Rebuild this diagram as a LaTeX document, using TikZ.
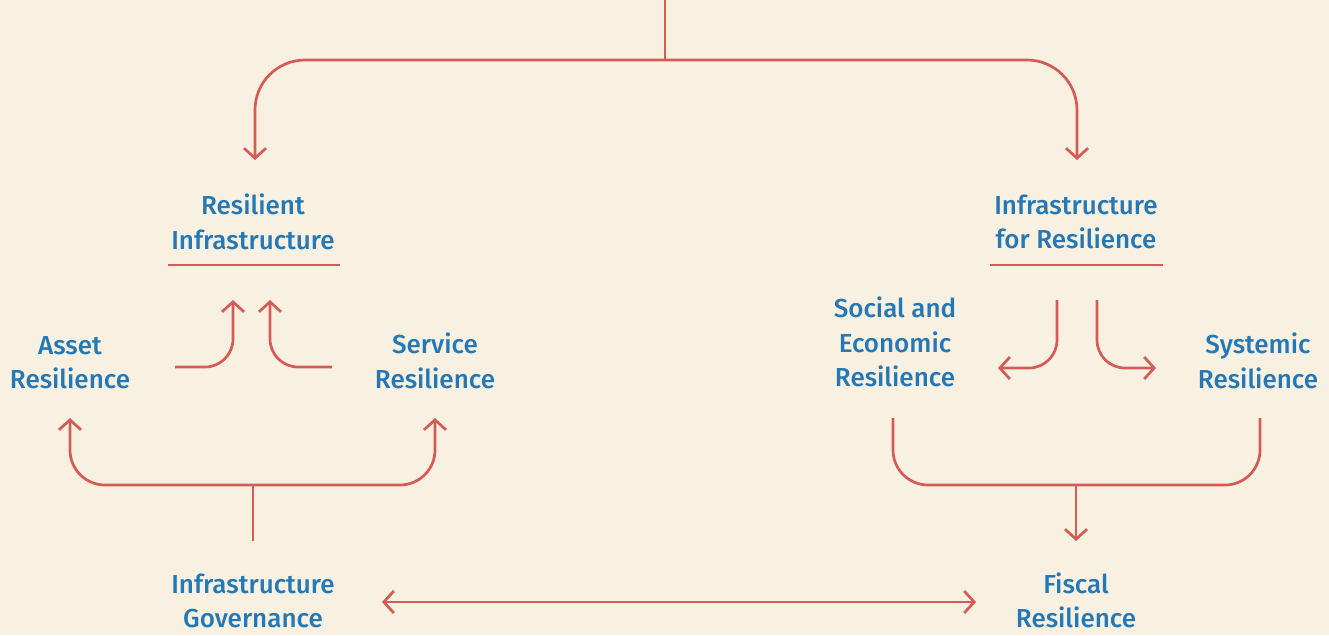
\documentclass[tikz,border=0pt]{standalone}
\usepackage{fontspec}
\setmainfont{Fira Sans}[UprightFont=* Medium]
\usetikzlibrary{arrows.meta}
\definecolor{bg}{HTML}{F8F0E1}
\definecolor{lred}{HTML}{D65A55}
\definecolor{lblue}{HTML}{2478B5}
\tikzset{
  lbl/.style={text=lblue, align=center, font=\fontsize{26}{34.5}\selectfont, inner sep=0pt},
  conn/.style={draw=lred, line width=2.7pt},
  tip/.style={-{Straight Barb[length=10pt,width=22pt,line width=2.7pt]}},
  tips/.style={{Straight Barb[length=10pt,width=22pt,line width=2.7pt]}-{Straight Barb[length=10pt,width=22pt,line width=2.7pt]}}
}
\begin{document}
\begin{tikzpicture}[x=1pt,y=-1pt]
\fill[bg] (0,0) rectangle (1329,635);
\useasboundingbox (0,0) rectangle (1329,635);

% labels
\node[lbl] (ri) at (253,222) {Resilient\\Infrastructure};
\node[lbl] (ifr) at (1076,222) {Infrastructure\\for Resilience};
\node[lbl] (asset) at (70,362.5) {Asset\\Resilience};
\node[lbl] (service) at (435,361) {Service\\Resilience};
\node[lbl] (social) at (895,342) {Social and\\Economic\\Resilience};
\node[lbl] (systemic) at (1258,361) {Systemic\\Resilience};
\node[lbl] (gov) at (253,601) {Infrastructure\\Governance};
\node[lbl] (fiscal) at (1076,600.5) {Fiscal\\Resilience};

% coordinates
\coordinate (top) at (665,0);
\coordinate (topj) at (665,60);
\coordinate (riin) at (255,160);
\coordinate (ifrin) at (1077,160);
\coordinate (ulLa) at (168,265);
\coordinate (ulLb) at (340,265);
\coordinate (ulRa) at (990,265);
\coordinate (ulRb) at (1163,265);
\coordinate (aout) at (175,367);
\coordinate (ain) at (233,300);
\coordinate (sout) at (332,367);
\coordinate (sin) at (270,300);
\coordinate (soc1) at (1057,300);
\coordinate (socin) at (998,368);
\coordinate (sys1) at (1097,300);
\coordinate (sysin) at (1156,368);
\coordinate (assetin) at (70,418);
\coordinate (servicein) at (435,418);
\coordinate (govout) at (253,541);
\coordinate (govj) at (253,485);
\coordinate (socout) at (893,418);
\coordinate (sysout) at (1260,418);
\coordinate (fisj) at (1076,485);
\coordinate (fisin) at (1076,541);
\coordinate (dblA) at (382,602);
\coordinate (dblB) at (976,602);

% top split
\draw[conn] (top) -- (topj);
\draw[conn,tip,rounded corners=50pt] (topj) -| (riin);
\draw[conn,tip,rounded corners=50pt] (topj) -| (ifrin);

% underlines
\draw[conn] (ulLa) -- (ulLb);
\draw[conn] (ulRa) -- (ulRb);

% left small arrows
\draw[conn,tip,rounded corners=28pt] (aout) -| (ain);
\draw[conn,tip,rounded corners=28pt] (sout) -| (sin);

% right small arrows
\draw[conn,tip,rounded corners=28pt] (soc1) |- (socin);
\draw[conn,tip,rounded corners=28pt] (sys1) |- (sysin);

% bottom left
\draw[conn] (govout) -- (govj);
\draw[conn,tips,rounded corners=35pt] (assetin) -- (70,485) -- (435,485) -- (servicein);

% bottom right
\draw[conn,rounded corners=35pt] (socout) -- (893,485) -- (1260,485) -- (sysout);
\draw[conn,tip] (fisj) -- (fisin);

% double arrow
\draw[conn,tips] (dblA) -- (dblB);
\end{tikzpicture}
\end{document}
